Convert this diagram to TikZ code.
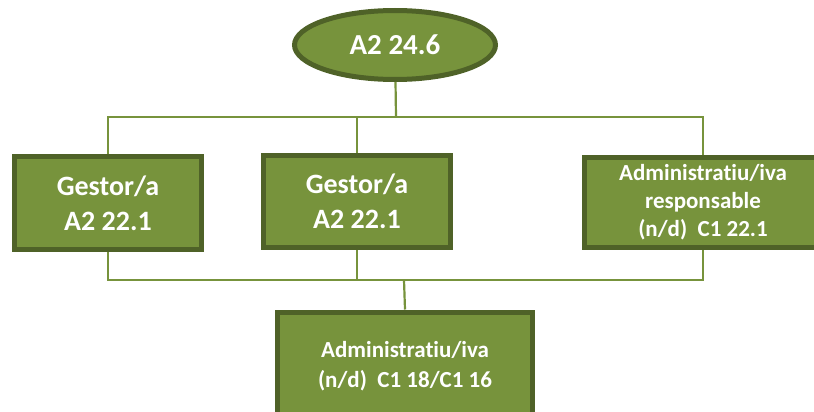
\documentclass[tikz,border=0pt]{standalone}
\usepackage{fontspec}
\setmainfont{Carlito}[Ligatures=NoCommon]
\usetikzlibrary{shapes.geometric}
\definecolor{olivefill}{HTML}{77933C}
\definecolor{olivedark}{HTML}{4F6228}
\tikzset{
	gbox/.style={draw=olivedark, line width=5pt, fill=olivefill, text=white, font=\bfseries, align=center, inner sep=0pt},
	rootnode/.style={ellipse, draw=olivedark, line width=5pt, fill=olivefill, text=white, font=\bfseries\fontsize{29}{35}\selectfont, minimum width=201pt, minimum height=69pt, inner sep=0pt},
	wire/.style={draw=olivefill, line width=2.2pt}
}
\begin{document}
\begin{tikzpicture}[x=1pt,y=-1pt]
	\useasboundingbox (0,0) rectangle (814,412);
	%nodes
	\node[rootnode] (top) at (395,45) {A2 24.6};
	\node[gbox, minimum width=187pt, minimum height=93pt, font=\bfseries\fontsize{28}{35}\selectfont] (gest1) at (108,203) {Gestor/a\\A2 22.1};
	\node[gbox, minimum width=187pt, minimum height=92pt, font=\bfseries\fontsize{28}{35}\selectfont] (gest2) at (357,201.5) {Gestor/a\\A2 22.1};
	\node[gbox, minimum width=237pt, minimum height=90pt, font=\bfseries\fontsize{23}{28}\selectfont] (admr) at (703,202) {Administratiu/iva\\responsable\\(n/d)\ \ C1 22.1};
	\node[gbox, minimum width=255pt, minimum height=108pt, font=\bfseries\fontsize{23}{30}\selectfont] (admb) at (405,366) {Administratiu/iva\\(n/d)\ \ C1 18/C1 16};
	%wires top
	\coordinate (jtop) at (396,117);
	\draw[wire] (top) -- (jtop);
	\draw[wire] (gest1.north) |- (jtop) -| (admr.north);
	\draw[wire] (gest2.north) -- (gest2.north |- jtop);
	%wires bottom
	\coordinate (jbot) at (404,280);
	\draw[wire] (gest1.south) |- (jbot) -| (admr.south);
	\draw[wire] (gest2.south) -- (gest2.south |- jbot);
	\draw[wire] (jbot) -- (admb.north);
\end{tikzpicture}
\end{document}
